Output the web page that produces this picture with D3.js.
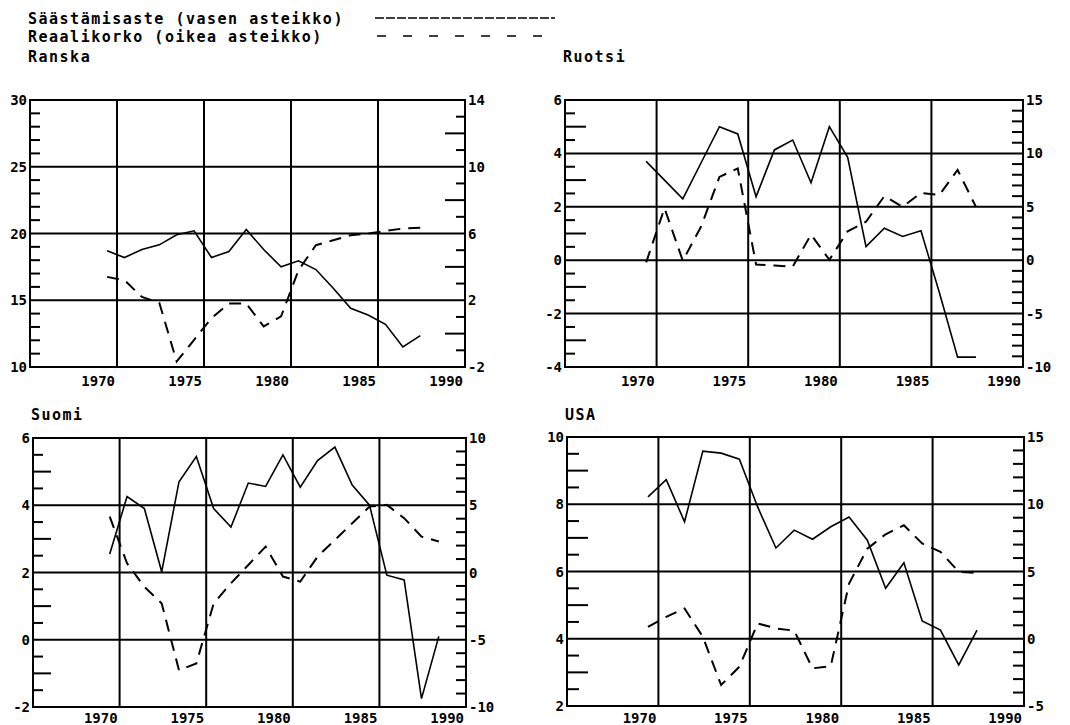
<!DOCTYPE html>
<html>
<head>
<meta charset="utf-8">
<script src="https://cdn.jsdelivr.net/npm/d3@7"></script>
<style>
  body { margin: 0; background: #fff; }
  svg text { font-family: 'DejaVu Sans Mono', monospace; fill: #000; }
  .legend, .title { font-size: 15px; letter-spacing: 1.5px; font-weight: bold; }
  .lab { font-size: 14px; font-weight: bold; }
</style>
</head>
<body>
<svg id="chart" width="1070" height="725"></svg>
<script>
// data
var years = [1970,1971,1972,1973,1974,1975,1976,1977,1978,1979,1980,1981,1982,1983,1984,1985,1986,1987,1988];
var yearsSuomi = [1970,1971,1972,1973,1974,1975,1976,1977,1978,1979,1980,1981,1982,1983,1984,1985,1986,1987,1988,1989];
var xLabels = [1970, 1975, 1980, 1985, 1990];

var ranskaSaving = [18.7,18.2,18.8,19.15,19.9,20.2,18.2,18.65,20.3,18.8,17.5,17.95,17.3,15.9,14.4,13.9,13.2,11.5,12.35];
var ranskaReal   = [3.4,3.2,2.2,1.85,-1.67,-0.37,0.93,1.8,1.8,0.43,1.03,3.8,5.3,5.6,5.9,6.0,6.15,6.3,6.35];

var ruotsiSaving = [3.7,3.0,2.3,3.65,5.0,4.73,2.38,4.13,4.5,2.9,5.0,3.85,0.51,1.2,0.89,1.1,-1.2,-3.63,-3.63];
var ruotsiReal   = [-0.2,4.87,-0.05,3.15,7.8,8.6,-0.4,-0.5,-0.6,2.4,0.04,2.7,3.6,6.0,5.0,6.3,6.1,8.45,5.0];

var suomiSaving = [2.55,4.26,3.9,2.02,4.7,5.45,3.9,3.35,4.66,4.56,5.5,4.54,5.33,5.73,4.6,4.0,1.92,1.78,-1.75,0.1];
var suomiReal   = [4.16,0.68,-1.06,-2.3,-7.27,-6.77,-2.3,-0.8,0.56,1.93,-0.3,-0.68,1.18,2.42,3.66,4.9,5.03,4.04,2.67,2.3];

var usaSaving = [8.22,8.73,7.48,9.58,9.52,9.34,7.92,6.7,7.23,6.96,7.33,7.62,6.93,5.5,6.26,4.53,4.26,3.22,4.26];
var usaReal   = [0.89,1.63,2.25,0.15,-3.44,-2.08,1.14,0.77,0.6,-2.2,-2.03,4.1,6.7,7.77,8.44,7.08,6.46,4.98,4.9];

var ranskaLeftTicks = [10,15,20,25,30];
var ranskaRightTicks = [-2,2,6,10,14];
var ruotsiLeftTicks = [-4,-2,0,2,4,6];
var ruotsiRightTicks = [-10,-5,0,5,10,15];
var suomiLeftTicks = [-2,0,2,4,6];
var suomiRightTicks = [-10,-5,0,5,10];
var usaLeftTicks = [2,4,6,8,10];
var usaRightTicks = [-5,0,5,10,15];

function isOdd(v) { return Math.abs(v % 2) === 1; }
function isEven(v) { return v % 2 === 0; }

var panels = [
  { name: 'Ranska', x0: 30, x1: 465, y0: 100, y1: 367, titleY: 62, labelY: 386, years: years,
    saving: ranskaSaving, real: ranskaReal,
    left: ranskaLeftTicks, leftStep: 1, leftLen: function(v) { return 10; },
    right: ranskaRightTicks, rightStep: 1, rightLen: function(v) { return isEven(v) ? 20 : 9; } },
  { name: 'Ruotsi', x0: 565, x1: 1023, y0: 100, y1: 367, titleY: 62, labelY: 386, years: years,
    saving: ruotsiSaving, real: ruotsiReal,
    left: ruotsiLeftTicks, leftStep: 0.5, leftLen: function(v) { return isOdd(v) ? 21 : 10; },
    right: ruotsiRightTicks, rightStep: 1, rightLen: function(v) { return 11; } },
  { name: 'Suomi', x0: 33, x1: 466, y0: 438, y1: 707, titleY: 420, labelY: 723, years: yearsSuomi,
    saving: suomiSaving, real: suomiReal,
    left: suomiLeftTicks, leftStep: 0.5, leftLen: function(v) { return isOdd(v) ? 18 : 10; },
    right: suomiRightTicks, rightStep: 1, rightLen: function(v) { return 10; } },
  { name: 'USA', x0: 567, x1: 1024, y0: 437, y1: 706, titleY: 420, labelY: 723, years: years,
    saving: usaSaving, real: usaReal,
    left: usaLeftTicks, leftStep: 0.5, leftLen: function(v) { return isOdd(v) ? 21 : 12; },
    right: usaRightTicks, rightStep: 1, rightLen: function(v) { return 11; } }
];

var shift = 0.57; // grid lines sit a bit after the year point

var svg = d3.select('#chart');

// legend
svg.append('text').attr('class', 'legend').attr('x', 28).attr('y', 24).text('Säästämisaste (vasen asteikko)');
svg.append('text').attr('class', 'legend').attr('x', 28).attr('y', 42).text('Reaalikorko (oikea asteikko)');
svg.append('line').attr('x1', 375).attr('x2', 555).attr('y1', 18).attr('y2', 18)
    .attr('stroke', '#000').attr('stroke-width', 1.6).attr('stroke-dasharray', '9,2');
svg.append('line').attr('x1', 377).attr('x2', 555).attr('y1', 36).attr('y2', 36)
    .attr('stroke', '#000').attr('stroke-width', 1.6).attr('stroke-dasharray', '9,17');

panels.forEach(function(p) {
  var g = svg.append('g');
  var x = d3.scaleLinear().domain([1965 + shift, 1990 + shift]).range([p.x0, p.x1]);
  var yL = d3.scaleLinear().domain([p.left[0], p.left[p.left.length - 1]]).range([p.y1, p.y0]);
  var yR = d3.scaleLinear().domain([p.right[0], p.right[p.right.length - 1]]).range([p.y1, p.y0]);

  g.append('text').attr('class', 'title').attr('x', p.x0 - 2).attr('y', p.titleY).text(p.name);

  // horizontal grid
  g.selectAll('.hg').data(p.left.slice(1, -1)).enter().append('line')
      .attr('x1', p.x0).attr('x2', p.x1)
      .attr('y1', function(d) { return yL(d); }).attr('y2', function(d) { return yL(d); })
      .attr('stroke', '#000').attr('stroke-width', 2);

  // vertical grid
  g.selectAll('.vg').data(xLabels.slice(0, -1)).enter().append('line')
      .attr('x1', function(d) { return x(d + shift); }).attr('x2', function(d) { return x(d + shift); })
      .attr('y1', p.y0).attr('y2', p.y1)
      .attr('stroke', '#000').attr('stroke-width', 2);

  // minor ticks
  var lmin = p.left[0], lmax = p.left[p.left.length - 1];
  var lt = d3.range(lmin + p.leftStep, lmax, p.leftStep).filter(function(v) { return p.left.indexOf(v) < 0; });
  g.selectAll('.lt').data(lt).enter().append('line')
      .attr('x1', p.x0).attr('x2', function(d) { return p.x0 + p.leftLen(d); })
      .attr('y1', function(d) { return yL(d); }).attr('y2', function(d) { return yL(d); })
      .attr('stroke', '#000').attr('stroke-width', 2);

  var rmin = p.right[0], rmax = p.right[p.right.length - 1];
  var rt = d3.range(rmin + p.rightStep, rmax, p.rightStep).filter(function(v) { return p.right.indexOf(v) < 0; });
  g.selectAll('.rt').data(rt).enter().append('line')
      .attr('x1', p.x1).attr('x2', function(d) { return p.x1 - p.rightLen(d); })
      .attr('y1', function(d) { return yR(d); }).attr('y2', function(d) { return yR(d); })
      .attr('stroke', '#000').attr('stroke-width', 2);

  // frame
  g.append('rect').attr('x', p.x0).attr('y', p.y0)
      .attr('width', p.x1 - p.x0).attr('height', p.y1 - p.y0)
      .attr('fill', 'none').attr('stroke', '#000').attr('stroke-width', 2);

  // tick labels
  g.selectAll('.ll').data(p.left).enter().append('text').attr('class', 'lab')
      .attr('x', p.x0 - 3).attr('y', function(d) { return yL(d); })
      .attr('dy', '0.36em').attr('text-anchor', 'end').text(function(d) { return d; });
  g.selectAll('.rl').data(p.right).enter().append('text').attr('class', 'lab')
      .attr('x', p.x1 + 3).attr('y', function(d) { return yR(d); })
      .attr('dy', '0.36em').text(function(d) { return d; });
  g.selectAll('.xl').data(xLabels).enter().append('text').attr('class', 'lab')
      .attr('x', function(d) { return x(d + shift) - 2; }).attr('y', p.labelY)
      .attr('text-anchor', 'end').text(function(d) { return d; });

  // series
  var saving = d3.line().x(function(d, i) { return x(p.years[i]); }).y(function(d) { return yL(d); });
  var real = d3.line().x(function(d, i) { return x(p.years[i]); }).y(function(d) { return yR(d); });
  g.append('path').attr('d', saving(p.saving))
      .attr('fill', 'none').attr('stroke', '#000').attr('stroke-width', 1.6);
  g.append('path').attr('d', real(p.real))
      .attr('fill', 'none').attr('stroke', '#000').attr('stroke-width', 2)
      .attr('stroke-dasharray', '12,8');
});
</script>
</body>
</html>
